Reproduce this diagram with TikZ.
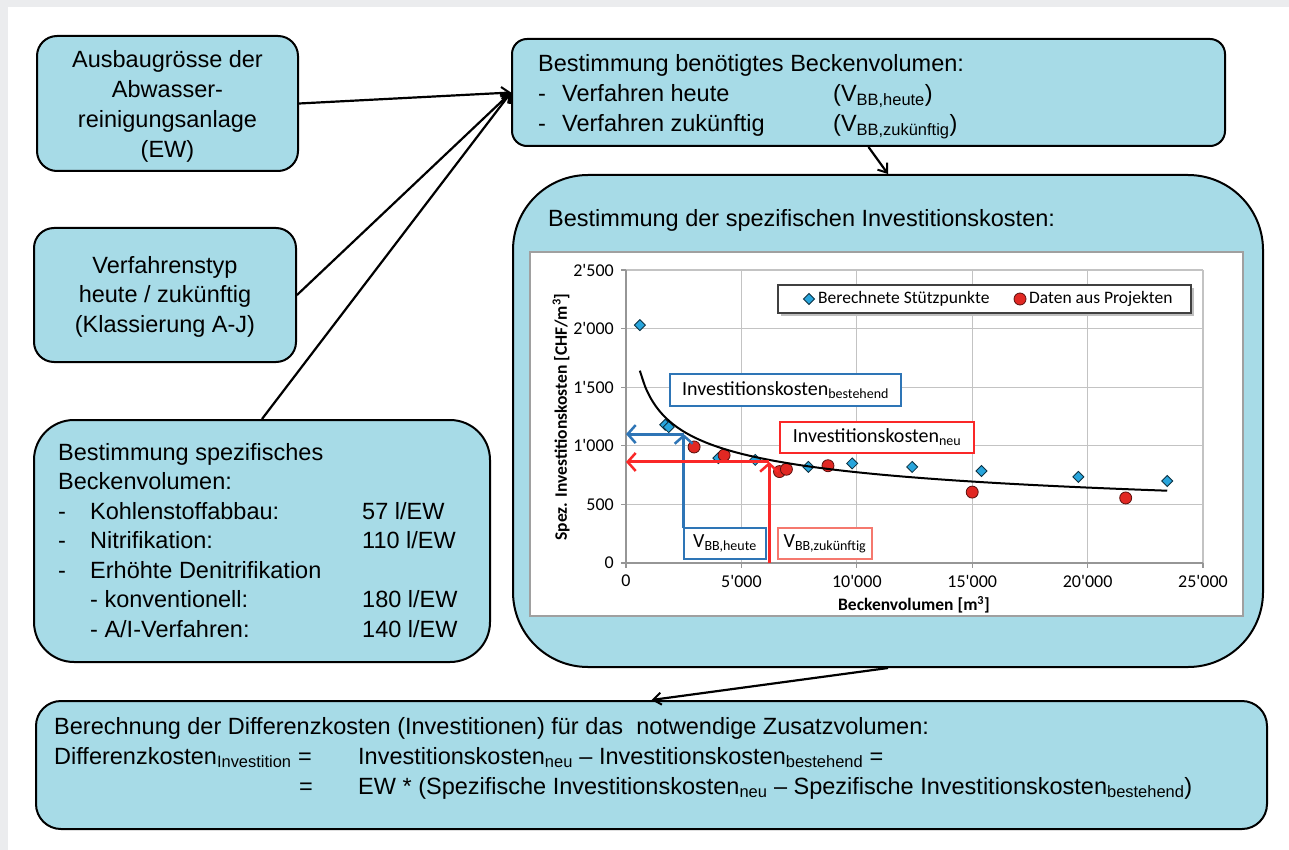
\documentclass[tikz,border=0pt]{standalone}
\usepackage{fontspec}
\setmainfont{Liberation Sans}
\newfontfamily\chartfont{Carlito}
\usetikzlibrary{arrows.meta}
\definecolor{boxfill}{RGB}{167,219,231}
\definecolor{bgray}{RGB}{235,236,238}
\definecolor{gridc}{RGB}{195,195,195}
\definecolor{axc}{RGB}{150,150,150}
\definecolor{frame}{RGB}{160,160,160}
\definecolor{cblue}{RGB}{46,117,182}
\definecolor{cred}{RGB}{250,40,40}
\definecolor{csalmon}{RGB}{245,120,110}
\definecolor{mblue}{RGB}{40,165,220}
\definecolor{mred}{RGB}{225,40,35}
\newcommand\fstrut{\rule{0pt}{20pt}}
\newcommand\dmd[2]{\draw[fill=mblue, draw=black!70!mblue, line width=0.8pt] (#1,#2) ++(-5.5pt,0pt) -- ++(5.5pt,5.5pt) -- ++(5.5pt,-5.5pt) -- ++(-5.5pt,-5.5pt) -- cycle;}
\newcommand\rdot[2]{\draw[fill=mred, draw=black!60!mred, line width=0.8pt] (#1,#2) circle[radius=6pt];}
\begin{document}
\begin{tikzpicture}[x=1pt,y=-1pt,
  box/.style={draw=black, line width=2pt, fill=boxfill, inner sep=0pt},
  txt/.style={inner sep=0pt, font=\fontsize{23.5}{30}\selectfont},
  arr/.style={line width=2.2pt, -{Straight Barb[length=8pt,width=12pt,line width=2pt]}},
  carr/.style={line width=3pt, -{Straight Barb[length=8pt,width=18pt,line width=2.5pt]}},
  tick/.style={inner sep=0pt, font=\chartfont\fontsize{18}{20}\selectfont},
  lab/.style={line width=1.3pt, fill=white, inner sep=0pt, font=\chartfont\fontsize{20}{22}\selectfont},
  gridl/.style={gridc, line width=1.2pt},
  axl/.style={axc, line width=1.2pt}]
\useasboundingbox (0,0) rectangle (1289,850);
\fill[bgray] (0,0) rectangle (1289,850);
\fill[white] (8,7) rectangle (1289,850);

% boxes
\node[box, rounded corners=20pt, minimum width=261pt, minimum height=135pt] (b1) at (167.5,103.5) {};
\node[box, rounded corners=20pt, minimum width=262pt, minimum height=134pt] (b2) at (165,295) {};
\node[box, rounded corners=40pt, minimum width=456pt, minimum height=242pt] (b3) at (262,541) {};
\node[box, rounded corners=15pt, minimum width=713pt, minimum height=107pt] (b4) at (868.5,92.5) {};
\node[box, rounded corners=75pt, minimum width=750pt, minimum height=492pt] (b5) at (888,421) {};
\node[box, rounded corners=25pt, minimum width=1231pt, minimum height=128pt] (b6) at (651.5,765) {};

% texts
\node[txt, anchor=north, align=center] (t1) at (167.5,47) {\fstrut Ausbaugrösse der\\Abwasser-\\reinigungsanlage\\(EW)};
\node[txt, anchor=north, align=center, font=\fontsize{23.5}{29.5}\selectfont] (t2) at (165,253) {\fstrut Verfahrenstyp\\heute / zukünftig\\(Klassierung A-J)};
\node[txt, anchor=north west, align=left, font=\fontsize{23.5}{29.5}\selectfont] (t3) at (58,440) {\fstrut Bestimmung spezifisches\\Beckenvolumen:\\\makebox[32pt][l]{-}\makebox[272pt][l]{Kohlenstoffabbau:}57 l/EW\\\makebox[32pt][l]{-}\makebox[272pt][l]{Nitrifikation:}110 l/EW\\\makebox[32pt][l]{-}Erhöhte Denitrifikation\\\hspace*{32pt}\makebox[272pt][l]{- konventionell:}180 l/EW\\\hspace*{32pt}\makebox[272pt][l]{- A/I-Verfahren:}140 l/EW};
\node[txt, anchor=north west, align=left] (t4) at (538,51.7) {\fstrut Bestimmung benötigtes Beckenvolumen:\\\makebox[24pt][l]{-}\makebox[271pt][l]{Verfahren heute}(V\textsubscript{BB,heute})\\\makebox[24pt][l]{-}\makebox[271pt][l]{Verfahren zukünftig}(V\textsubscript{BB,zukünftig})};
\node[txt, anchor=base west] (t5) at (548,226.7) {Bestimmung der spezifischen Investitionskosten:};
\node[txt, anchor=north west, align=left] (t6) at (54,714) {\fstrut Berechnung der Differenzkosten (Investitionen) für das\ \ notwendige Zusatzvolumen:\\\makebox[304pt][l]{Differenzkosten\textsubscript{Investition} =}Investitionskosten\textsubscript{neu} – Investitionskosten\textsubscript{bestehend} =\\\makebox[304pt][l]{\hspace*{245pt}=}EW * (Spezifische Investitionskosten\textsubscript{neu} – Spezifische Investitionskosten\textsubscript{bestehend})};

% connectors
\draw[arr] (b1.east) -- (b4.west);
\draw[arr] (b2.east) -- (b4.west);
\draw[arr] (b3.north) -- (b4.west);
\draw[arr] (b4.south) -- (b5.north);
\draw[arr] (b5.south) -- (b6.north);

% chart frame
\node[draw=frame, line width=1.5pt, fill=white, minimum width=713pt, minimum height=364pt, inner sep=0pt] (chart) at (886.5,434) {};

\begin{scope}[shift={(626pt,-563pt)}, x=23.08pt, y=11.72pt]
  \foreach \i in {5,10,15,20,25} \draw[gridl] (\i,0) -- (\i,25);
  \foreach \j in {5,10,15,20,25} \draw[gridl] (0,\j) -- (25,\j);
  \draw[axl] (0,0) -- (0,25);
  \draw[axl] (0,0) -- (25,0);
  \foreach \j in {0,5,10,15,20,25} \draw[axl] (0,\j) -- ++(-5pt,0pt);
  \foreach \i in {0,5,10,15,20,25} \draw[axl] (\i,0) -- ++(0pt,-5pt);
  \foreach \j/\l in {0/0,5/500,10/1'000,15/1'500,20/2'000,25/2'500}
    \node[tick, anchor=east] (yl\j) at ([xshift=-12pt]0,\j) {\l};
  \foreach \i/\l in {0/0,5/5'000,10/10'000,15/15'000,20/20'000,25/25'000}
    \node[tick, anchor=north] (xl\i) at ([yshift=-12pt]\i,0) {\l};
  % markers
  \dmd{0.6}{20.3}\dmd{1.7}{11.8}\dmd{1.85}{11.6}\dmd{4.0}{8.95}\dmd{5.6}{8.8}
  \dmd{7.9}{8.2}\dmd{9.8}{8.5}\dmd{12.4}{8.2}\dmd{15.4}{7.85}\dmd{19.6}{7.35}\dmd{23.45}{7.0}
  \rdot{2.95}{9.9}\rdot{4.25}{9.2}\rdot{6.65}{7.8}\rdot{6.95}{8.0}\rdot{8.75}{8.3}\rdot{15.0}{6.05}\rdot{21.65}{5.55}
  % curve
  \draw[line width=2pt, black] plot[domain=0.6:23.45, samples=100, smooth] (\x,{14.32*pow(\x,-0.267)});
  % arrows
  \coordinate (bh0) at (2.5,3.0);
  \coordinate (bh1) at (2.5,11.0);
  \coordinate (bh2) at (0,11.0);
  \coordinate (rz0) at (6.2,0);
  \coordinate (rz1) at (6.2,8.62);
  \coordinate (rz2) at (0,8.62);
  \draw[carr, cblue] (bh0) -- (bh1);
  \draw[carr, cblue] (bh1) -- (bh2);
  \draw[carr, cred] (rz0) -- (rz1);
  \draw[carr, cred] (rz1) -- (rz2);
\end{scope}

% axis titles
\node[inner sep=0pt, rotate=90, font=\chartfont\bfseries\fontsize{17.5}{20}\selectfont] (ylab) at (561,417) {Spez. Investitionskosten [CHF/m\textsuperscript{3}]};
\node[inner sep=0pt, font=\chartfont\bfseries\fontsize{17.5}{20}\selectfont] (xlab) at (914,605) {Beckenvolumen [m\textsuperscript{3}]};

% legend
\fill[black!25] (780.5,287.5) rectangle (1193.5,315.5);
\node[draw=black!75, line width=1.2pt, fill=white, minimum width=413pt, minimum height=28pt, inner sep=0pt] (leg) at (984.5,299) {};
\begin{scope}[shift={(809pt,-299pt)}]
\dmd{0}{0}
\end{scope}
\node[tick, anchor=west, font=\chartfont\fontsize{17.5}{18}\selectfont] (lt1) at (818,299) {Berechnete Stützpunkte};
\begin{scope}[shift={(1020pt,-299pt)}]
\rdot{0}{0}
\end{scope}
\node[tick, anchor=west, font=\chartfont\fontsize{17.5}{18}\selectfont] (lt2) at (1029,299) {Daten aus Projekten};

% label boxes
\node[lab, draw=cblue, minimum width=231pt, minimum height=32pt] (ikb) at (785.5,390) {Investitionskosten\textsubscript{bestehend}};
\node[lab, draw=cred, minimum width=194pt, minimum height=31pt] (ikn) at (877,437.5) {Investitionskosten\textsubscript{neu}};
\node[lab, draw=cblue, minimum width=82pt, minimum height=31pt] (vbh) at (725,543.5) {V\textsubscript{BB,heute}};
\node[lab, draw=csalmon, minimum width=94pt, minimum height=31pt] (vbz) at (825,543.5) {V\textsubscript{BB,zukünftig}};
\end{tikzpicture}
\end{document}
